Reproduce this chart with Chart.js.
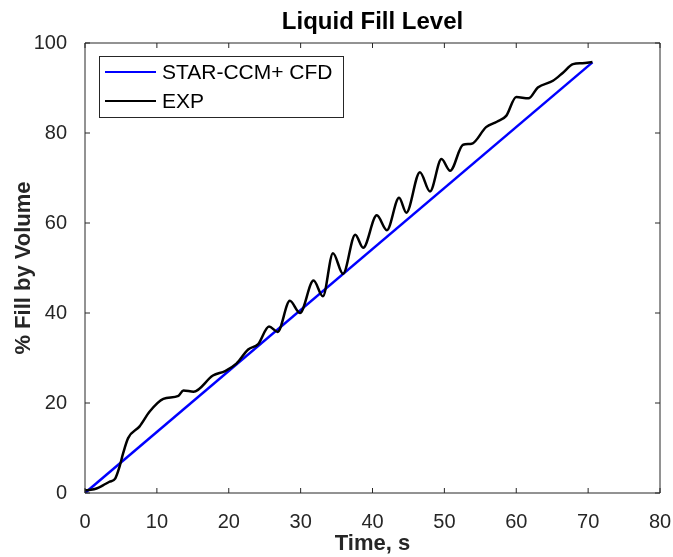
<!DOCTYPE html>
<html lang="en">
<head>
<meta charset="UTF-8">
<title>Liquid Fill Level</title>
<script src="https://cdn.jsdelivr.net/npm/chart.js"></script>
<style>
  html, body { margin: 0; padding: 0; background: #fff; }
  #wrap { width: 673px; height: 557px; }
</style>
</head>
<body>
<div id="wrap"><canvas id="fill"></canvas></div>
<script>
// values
const cfdTime = [0, 70.6];
const cfdFill = [0, 95.7];

const expTime = [0, 0.8, 1.6, 2.5, 3.4, 4.2, 4.8, 5.3, 6.0, 7.6, 9.0, 10.9, 13.0, 13.7, 15.1, 17.8, 19.5, 21.1, 22.7, 24.1,
  25.6, 26.8, 28.5, 29.9, 31.8, 33.1, 34.5, 35.9, 37.6, 38.7, 40.6, 42.0, 43.7, 44.7, 46.6, 48.0, 49.6, 50.8, 52.6, 53.8,
  55.8, 57.3, 58.6, 60.0, 61.7, 63.0, 65.1, 66.5, 67.9, 69.2, 70.6];
const expFill = [0.6, 0.7, 1.0, 1.7, 2.5, 3.2, 5.8, 8.8, 12.2, 14.8, 18.1, 20.9, 21.6, 22.8, 22.5, 26.1, 27.1, 28.8, 31.9, 33.1,
  37.0, 35.8, 42.7, 40.0, 47.2, 43.7, 53.3, 48.7, 57.4, 54.5, 61.7, 58.4, 65.6, 62.3, 71.3, 67.0, 74.2, 71.6, 77.4, 77.6,
  81.3, 82.5, 83.8, 88.0, 87.7, 90.1, 91.6, 93.4, 95.3, 95.5, 95.8];

const xTicks = [0, 10, 20, 30, 40, 50, 60, 70, 80];
const yTicks = [0, 20, 40, 60, 80, 100];

const seriesNames = ["STAR-CCM+ CFD", "EXP"];
const seriesColors = ["#0000ff", "#000000"];
const titleText = "Liquid Fill Level";

const axisColor = "#262626";
const fontFam = "'Liberation Sans', Arial, sans-serif";

function pts(xs, ys) {
  return xs.map((x, i) => ({ x: x, y: ys[i] }));
}

// matlab style box, inward ticks on all sides, legend and title over the axes
const boxPlugin = {
  id: "box",
  afterDraw(chart) {
    const ctx = chart.ctx;
    const a = chart.chartArea;
    const sx = chart.scales.x, sy = chart.scales.y;
    const tl = 5;
    ctx.save();
    ctx.strokeStyle = axisColor;
    ctx.lineWidth = 1;
    ctx.beginPath();
    ctx.rect(a.left, a.top, a.right - a.left, a.bottom - a.top);
    xTicks.forEach(v => {
      const px = sx.getPixelForValue(v);
      ctx.moveTo(px, a.bottom); ctx.lineTo(px, a.bottom - tl);
      ctx.moveTo(px, a.top); ctx.lineTo(px, a.top + tl);
    });
    yTicks.forEach(v => {
      const py = sy.getPixelForValue(v);
      ctx.moveTo(a.left, py); ctx.lineTo(a.left + tl, py);
      ctx.moveTo(a.right, py); ctx.lineTo(a.right - tl, py);
    });
    ctx.stroke();

    // title centred on the axes
    ctx.fillStyle = "#000";
    ctx.font = "bold 24px " + fontFam;
    ctx.textAlign = "center";
    ctx.textBaseline = "middle";
    ctx.fillText(titleText, (a.left + a.right) / 2, 22);

    // legend, upper left inside the axes
    const lx = a.left + 14, ly = a.top + 13, lw = 244, lh = 61;
    ctx.fillStyle = "#fff";
    ctx.fillRect(lx, ly, lw, lh);
    ctx.strokeStyle = axisColor;
    ctx.strokeRect(lx + 0.5, ly + 0.5, lw, lh);
    ctx.font = "21px " + fontFam;
    ctx.textAlign = "left";
    seriesNames.forEach((name, i) => {
      const ry = ly + 16 + i * 29;
      ctx.strokeStyle = seriesColors[i];
      ctx.lineWidth = 2;
      ctx.beginPath();
      ctx.moveTo(lx + 6, ry); ctx.lineTo(lx + 57, ry);
      ctx.stroke();
      ctx.fillStyle = "#000";
      ctx.fillText(name, lx + 63, ry + 1);
    });
    ctx.restore();
  }
};

new Chart(document.getElementById("fill"), {
  type: "scatter",
  data: {
    datasets: [
      {
        label: seriesNames[0],
        data: pts(cfdTime, cfdFill),
        showLine: true,
        borderColor: seriesColors[0],
        borderWidth: 2.5,
        pointRadius: 0,
        order: 2
      },
      {
        label: seriesNames[1],
        data: pts(expTime, expFill),
        showLine: true,
        borderColor: seriesColors[1],
        borderWidth: 2.5,
        pointRadius: 0,
        cubicInterpolationMode: "monotone",
        order: 1
      }
    ]
  },
  options: {
    responsive: true,
    maintainAspectRatio: false,
    animation: false,
    layout: { padding: { left: 0, right: 13, top: 43, bottom: 0 } },
    plugins: {
      legend: { display: false },
      tooltip: { enabled: false },
      title: { display: false }
    },
    scales: {
      x: {
        type: "linear",
        min: 0, max: 80,
        afterFit: s => { s.height = 64; s.paddingLeft = 0; s.paddingRight = 0; },
        afterBuildTicks: s => { s.ticks = xTicks.map(v => ({ value: v })); },
        grid: { display: false },
        border: { display: false },
        ticks: { color: axisColor, padding: 9, font: { family: fontFam, size: 20 } },
        title: {
          display: true, text: "Time, s", color: axisColor,
          font: { family: fontFam, size: 22, weight: "bold" },
          padding: { top: 0, bottom: 0 }
        }
      },
      y: {
        type: "linear",
        min: 0, max: 100,
        afterFit: s => { s.width = 85; s.paddingTop = 0; s.paddingBottom = 0; },
        afterBuildTicks: s => { s.ticks = yTicks.map(v => ({ value: v })); },
        grid: { display: false },
        border: { display: false },
        ticks: { color: axisColor, padding: 10, font: { family: fontFam, size: 20 } },
        title: {
          display: true, text: "% Fill by Volume", color: axisColor,
          font: { family: fontFam, size: 22, weight: "bold" },
          padding: { top: 11, bottom: 0 }
        }
      }
    }
  },
  plugins: [boxPlugin]
});
</script>
</body>
</html>
